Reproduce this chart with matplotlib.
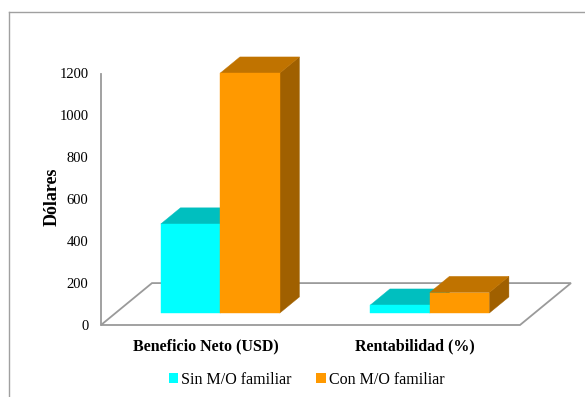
import matplotlib.pyplot as plt
from matplotlib.patches import Polygon, Patch
from matplotlib.lines import Line2D

plt.rcParams['font.family'] = ['Liberation Serif', 'DejaVu Serif']

# Data
categories = ['Beneficio Neto (USD)', 'Rentabilidad (%)']
series_names = ['Sin M/O familiar', 'Con M/O familiar']
sin_mo = [425, 38]
con_mo = [1145, 98]
y_ticks = [0, 200, 400, 600, 800, 1000, 1200]

front_colors = ['#00FFFF', '#FF9900']
top_colors = ['#00BFBF', '#C07300']
side_colors = ['#009F9F', '#A06000']
edge_gray = '#9A9A9A'

# 3D oblique geometry (data units)
DX, DY = 0.2434, 200.0       # floor depth vector
t0, t1 = 0.285, 0.67         # bar front / back position along depth
bar_w = 0.284


def draw_bar(ax, x0, v, k):
    fx, b = t0 * DX, t0 * DY
    ddx, ddy = (t1 - t0) * DX, (t1 - t0) * DY
    xl, xr = x0 + fx, x0 + bar_w + fx
    front = [(xl, b), (xr, b), (xr, b + v), (xl, b + v)]
    top = [(xl, b + v), (xr, b + v), (xr + ddx, b + v + ddy), (xl + ddx, b + v + ddy)]
    side = [(xr, b), (xr + ddx, b + ddy), (xr + ddx, b + v + ddy), (xr, b + v)]
    for pts, c in [(side, side_colors[k]), (top, top_colors[k]), (front, front_colors[k])]:
        ax.add_patch(Polygon(pts, closed=True, facecolor=c, edgecolor=c,
                             linewidth=0.3, clip_on=False, zorder=3))


fig = plt.figure(figsize=(5.85, 3.97), dpi=100)
ax = fig.add_axes([101 / 585, 1 - 325 / 397, 419 / 585, 251.5 / 397])
ax.set_xlim(0, len(categories))
ax.set_ylim(0, 1200)

# floor
n = len(categories)
floor = [(0, 0), (n, 0), (n + DX, DY), (DX, DY)]
ax.add_patch(Polygon(floor, closed=True, facecolor='white', edgecolor=edge_gray,
                     linewidth=1.3, clip_on=False, zorder=1))

for i in range(n):
    center = i + 0.5
    draw_bar(ax, center - bar_w, sin_mo[i], 0)
    draw_bar(ax, center, con_mo[i], 1)

for s in ['top', 'right', 'bottom']:
    ax.spines[s].set_visible(False)
ax.spines['left'].set_color(edge_gray)
ax.spines['left'].set_linewidth(1.3)
ax.spines['left'].set_zorder(2)

ax.set_yticks(y_ticks)
ax.set_yticklabels([str(t) for t in y_ticks], fontsize=10.5)
ax.tick_params(axis='y', length=0, pad=9)
ax.set_xticks([i + 0.5 for i in range(n)])
ax.set_xticklabels(categories, fontsize=11.5, fontweight='bold')
ax.tick_params(axis='x', length=0, pad=10)
ax.set_ylabel('Dólares', fontsize=13, fontweight='bold')
ax.yaxis.set_label_coords(-0.096, 0.51)

handles = [Patch(facecolor=front_colors[k], edgecolor='none') for k in range(2)]
fig.legend(handles, series_names, loc='center', bbox_to_anchor=(0.524, 0.043),
           ncol=2, frameon=False, fontsize=11.5, handlelength=0.6, handleheight=0.6,
           handletextpad=0.2, columnspacing=1.5)

# outer border (cropped on right and bottom)
fig.add_artist(Line2D([9 / 585, 1], [1 - 12 / 397] * 2, color='#A0A0A0', lw=1.0))
fig.add_artist(Line2D([9 / 585] * 2, [0, 1 - 12 / 397], color='#A0A0A0', lw=1.0))

fig.savefig('out.png', dpi=100)
